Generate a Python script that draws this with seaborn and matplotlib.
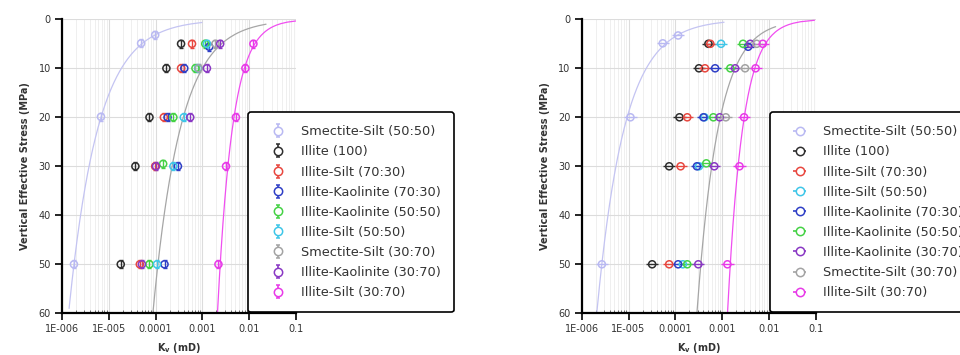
import numpy as np
import pandas as pd
import matplotlib
matplotlib.use("Agg")
import matplotlib.pyplot as plt
import seaborn as sns
from matplotlib.ticker import FixedLocator, FixedFormatter, LogLocator, NullFormatter

sns.set_theme(style="white")
plt.rcParams['font.family'] = ['DejaVu Sans']

# ---------------- axis ticks ----------------
X_TICKS = [1e-6, 1e-5, 1e-4, 1e-3, 1e-2, 1e-1]
X_TICK_LABELS = ["1E-006", "1E-005", "0.0001", "0.001", "0.01", "0.1"]
Y_TICKS = [0, 10, 20, 30, 40, 50, 60]
X_LABEL = r"K$_\mathregular{v}$ (mD)"
Y_LABEL = "Vertical Effective Stress (MPa)"

# ---------------- series names / colours ----------------
NAMES = ["Smectite-Silt (50:50)", "Illite (100)", "Illite-Silt (70:30)",
         "Illite-Kaolinite (70:30)", "Illite-Kaolinite (50:50)", "Illite-Silt (50:50)",
         "Smectite-Silt (30:70)", "Illite-Kaolinite (30:70)", "Illite-Silt (30:70)"]
COLORS = ["#b9b9f2", "#2e2e2e", "#e8473f", "#2f3fc6", "#45d245", "#3ec6e8",
          "#a3a3a3", "#8a38c4", "#e83ae8"]
LEFT_ORDER = NAMES
RIGHT_ORDER = ["Smectite-Silt (50:50)", "Illite (100)", "Illite-Silt (70:30)",
               "Illite-Silt (50:50)", "Illite-Kaolinite (70:30)", "Illite-Kaolinite (50:50)",
               "Illite-Kaolinite (30:70)", "Smectite-Silt (30:70)", "Illite-Silt (30:70)"]

# ---------------- left panel data (stress MPa, K mD) ----------------
L_SMS5050_S = [3.2, 4.9, 19.9, 50]
L_SMS5050_K = [9.8e-5, 4.9e-5, 6.8e-6, 1.8e-6]
L_I100_S = [5, 10, 20, 30, 50]
L_I100_K = [3.5e-4, 1.7e-4, 7.4e-5, 3.7e-5, 1.8e-5]
L_IS7030_S = [5, 10, 20, 30, 50]
L_IS7030_K = [6.0e-4, 3.5e-4, 1.5e-4, 9.8e-5, 4.6e-5]
L_IK7030_S = [5.6, 10, 20, 30, 50]
L_IK7030_K = [1.4e-3, 4.1e-4, 1.8e-4, 3.0e-4, 1.55e-4]
L_IK5050_S = [5, 10, 20, 29.5, 50]
L_IK5050_K = [1.15e-3, 7.1e-4, 2.4e-4, 1.45e-4, 7.4e-5]
L_IS5050_S = [5, 10, 20, 30, 50]
L_IS5050_K = [1.25e-3, 8.1e-4, 4.0e-4, 2.4e-4, 1.07e-4]
L_SMS3070_S = [5, 10]
L_SMS3070_K = [1.9e-3, 8.3e-4]
L_IK3070_S = [5, 10, 20, 30, 50]
L_IK3070_K = [2.4e-3, 1.25e-3, 5.5e-4, 1.02e-4, 5.1e-5]
L_IS3070_S = [5, 10, 20, 30, 50]
L_IS3070_K = [1.23e-2, 8.3e-3, 5.2e-3, 3.2e-3, 2.2e-3]

# ---------------- right panel data ----------------
R_SMS5050_S = [3.3, 4.9, 20, 50]
R_SMS5050_K = [1.15e-4, 5.4e-5, 1.1e-5, 2.7e-6]
R_I100_S = [5, 10, 20, 30, 50]
R_I100_K = [5.1e-4, 3.2e-4, 1.23e-4, 7.4e-5, 3.2e-5]
R_IS7030_S = [5, 10, 20, 30, 50]
R_IS7030_K = [5.6e-4, 4.3e-4, 1.8e-4, 1.3e-4, 7.4e-5]
R_IS5050_S = [5, 20, 30, 50]
R_IS5050_K = [9.5e-4, 4.2e-4, 3.2e-4, 1.45e-4]
R_IK7030_S = [5.6, 10, 20, 30, 50]
R_IK7030_K = [3.6e-3, 7.1e-4, 4.0e-4, 2.9e-4, 1.15e-4]
R_IK5050_S = [5, 10, 20, 29.4, 50]
R_IK5050_K = [2.8e-3, 1.5e-3, 6.5e-4, 4.6e-4, 1.8e-4]
R_IK3070_S = [5, 10, 20, 30, 50]
R_IK3070_K = [4.0e-3, 1.9e-3, 8.9e-4, 6.8e-4, 3.1e-4]
R_SMS3070_S = [5, 10, 20]
R_SMS3070_K = [5.5e-3, 3.1e-3, 1.2e-3]
R_IS3070_S = [5, 10, 20, 30, 50]
R_IS3070_K = [7.4e-3, 5.2e-3, 2.95e-3, 2.35e-3, 1.3e-3]

# ---------------- power-law trend lines (K at 10 MPa, exponent, stress range) ----------------
TREND_NAMES = ["Smectite-Silt (50:50)", "Smectite-Silt (30:70)", "Illite-Silt (30:70)"]
TREND_COLORS = ["#c4c4f2", "#a6a6a6", "#f04ef0"]
L_TREND_K10 = [1.86e-5, 1.0e-3, 7.9e-3]
L_TREND_EXP = [-1.45, -1.36, -0.74]
L_TREND_SMIN = [0.65, 1.0, 0.28]
L_TREND_SMAX = [59, 60, 60]
R_TREND_K10 = [2.4e-5, 1.9e-3, 5.0e-3]
R_TREND_EXP = [-1.36, -1.05, -0.75]
R_TREND_SMIN = [0.6, 1.5, 0.2]
R_TREND_SMAX = [60, 60, 60]

left_series = dict(zip(NAMES, [
    (L_SMS5050_S, L_SMS5050_K), (L_I100_S, L_I100_K), (L_IS7030_S, L_IS7030_K),
    (L_IK7030_S, L_IK7030_K), (L_IK5050_S, L_IK5050_K), (L_IS5050_S, L_IS5050_K),
    (L_SMS3070_S, L_SMS3070_K), (L_IK3070_S, L_IK3070_K), (L_IS3070_S, L_IS3070_K)]))
right_series = {
    "Smectite-Silt (50:50)": (R_SMS5050_S, R_SMS5050_K),
    "Illite (100)": (R_I100_S, R_I100_K),
    "Illite-Silt (70:30)": (R_IS7030_S, R_IS7030_K),
    "Illite-Silt (50:50)": (R_IS5050_S, R_IS5050_K),
    "Illite-Kaolinite (70:30)": (R_IK7030_S, R_IK7030_K),
    "Illite-Kaolinite (50:50)": (R_IK5050_S, R_IK5050_K),
    "Illite-Kaolinite (30:70)": (R_IK3070_S, R_IK3070_K),
    "Smectite-Silt (30:70)": (R_SMS3070_S, R_SMS3070_K),
    "Illite-Silt (30:70)": (R_IS3070_S, R_IS3070_K),
}
color_of = dict(zip(NAMES, COLORS))

fig = plt.figure(figsize=(9.6, 3.55), dpi=100)
ax_l = fig.add_axes([62 / 960, 1 - 313.3 / 355, 234 / 960, 294 / 355])
ax_r = fig.add_axes([581.7 / 960, 1 - 313.3 / 355, 234 / 960, 294 / 355])


def style_axes(ax):
    ax.set_xscale("log")
    ax.set_xlim(1e-6, 0.1)
    ax.set_ylim(60, 0)
    ax.xaxis.set_major_locator(FixedLocator(X_TICKS))
    ax.xaxis.set_major_formatter(FixedFormatter(X_TICK_LABELS))
    ax.xaxis.set_minor_locator(LogLocator(base=10, subs=np.arange(2, 10)))
    ax.xaxis.set_minor_formatter(NullFormatter())
    ax.yaxis.set_major_locator(FixedLocator(Y_TICKS))
    ax.grid(which="major", axis="both", color="#dcdcdc", lw=0.8)
    ax.grid(which="minor", axis="x", color="#ededed", lw=0.6)
    ax.set_axisbelow(True)
    for sp in ["top", "right"]:
        ax.spines[sp].set_visible(False)
    for sp in ["left", "bottom"]:
        ax.spines[sp].set_color("black")
        ax.spines[sp].set_linewidth(1.6)
    ax.tick_params(which="major", direction="out", length=5, width=1.2, color="black",
                   labelsize=7, labelcolor="#333333", left=True, bottom=True, pad=3)
    ax.tick_params(which="minor", axis="x", direction="in", length=2, width=0.6,
                   color="#555555", bottom=True)


def draw_panel(ax, series, order, k10s, exps, smins, smaxs, err_dir, anchor):
    style_axes(ax)
    for name, tc, k10, ex, smin, smax in zip(TREND_NAMES, TREND_COLORS, k10s, exps, smins, smaxs):
        s = np.linspace(smin, smax, 200)
        trend = pd.DataFrame({"stress": s, "K": k10 * (s / 10.0) ** ex})
        sns.lineplot(data=trend, x="K", y="stress", ax=ax, color=tc, lw=0.9,
                     sort=False, estimator=None, zorder=2)
    handles = []
    for name in order:
        s, k = series[name]
        c = color_of[name]
        s = np.asarray(s, float)
        k = np.asarray(k, float)
        if err_dir == "y":
            ax.errorbar(k, s, yerr=0.8, fmt="none", ecolor=c, elinewidth=1.0,
                        capsize=1.5, capthick=1.0, zorder=3)
            h = ax.errorbar([np.nan], [np.nan], yerr=[0.8], fmt="o", ms=6, mfc="white",
                            mec=c, mew=1.1, ecolor=c, elinewidth=1.2, capsize=1.5)
        else:
            f = 10 ** 0.13
            ax.errorbar(k, s, xerr=[k - k / f, k * f - k], fmt="none", ecolor=c,
                        elinewidth=1.0, capsize=0, zorder=3)
            h = ax.errorbar([np.nan], [np.nan], xerr=[1.0], fmt="o", ms=6, mfc="white",
                            mec=c, mew=1.1, ecolor=c, elinewidth=1.2, capsize=0)
        df = pd.DataFrame({"K": k, "stress": s})
        sns.scatterplot(data=df, x="K", y="stress", ax=ax, marker="o", s=26,
                        facecolor="none", edgecolor=c, linewidth=1.1, zorder=4)
        handles.append(h)
    ax.set_xlabel(X_LABEL, fontsize=7, fontweight="bold", color="#333333", labelpad=5)
    ax.set_ylabel(Y_LABEL, fontsize=7, fontweight="bold", color="#333333", labelpad=6)
    leg = ax.legend(handles, order, loc="lower left", bbox_to_anchor=anchor,
                    fontsize=9.3, frameon=True, fancybox=True, borderpad=1.0,
                    handlelength=2.6, handletextpad=0.5, labelspacing=0.55,
                    borderaxespad=0, numpoints=1)
    fr = leg.get_frame()
    fr.set_edgecolor("black")
    fr.set_linewidth(1.2)
    fr.set_facecolor("white")
    fr.set_alpha(1)
    for t in leg.get_texts():
        t.set_color("#333333")
    leg.set_zorder(10)


draw_panel(ax_l, left_series, LEFT_ORDER, L_TREND_K10, L_TREND_EXP, L_TREND_SMIN,
           L_TREND_SMAX, "y", (0.795, 0.004))
draw_panel(ax_r, right_series, RIGHT_ORDER, R_TREND_K10, R_TREND_EXP, R_TREND_SMIN,
           R_TREND_SMAX, "x", (0.805, 0.004))

fig.savefig("out.png", dpi=100)
